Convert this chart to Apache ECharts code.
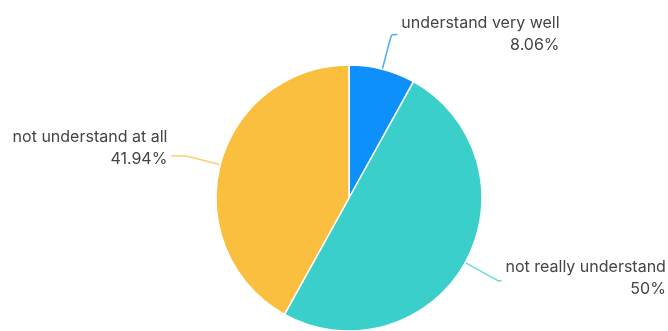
<!DOCTYPE html>
<html>
<head>
<meta charset="utf-8">
<script src="https://cdn.jsdelivr.net/npm/echarts@6/dist/echarts.min.js"></script>
<style>
  html, body { margin: 0; padding: 0; background: #ffffff; }
  #chart { width: 668px; height: 331px; }
</style>
</head>
<body>
<div id="chart"></div>
<script>
// Survey answers (respondent counts) and slice colours
const categories = ['understand very well', 'not really understand', 'not understand at all'];
const counts = [5, 31, 26];
const colors = ['#0e90fa', '#3acfca', '#fbbf3f'];

// Per-slice tweaks for the outside labels and their leader lines
const labelTweaks = [
  { length: 36, length2: 6, padding: [0, 0, 0, 0] },
  { length: 38, length2: 3, padding: [0, 0, 6, 0] },
  { length: 36, length2: 14, padding: [0, 0, 14, 0] }
];

const chart = echarts.init(document.getElementById('chart'), null, { renderer: 'canvas' });

chart.setOption({
  animation: false,
  series: [{
    type: 'pie',
    center: [349, 198],
    radius: 133,
    startAngle: 90,
    clockwise: true,
    avoidLabelOverlap: false,
    percentPrecision: 2,
    data: categories.map((name, i) => ({
      name: name,
      value: counts[i],
      itemStyle: { color: colors[i] },
      label: { padding: labelTweaks[i].padding },
      labelLine: { length: labelTweaks[i].length, length2: labelTweaks[i].length2 }
    })),
    itemStyle: { borderColor: '#ffffff', borderWidth: 1.5 },
    label: {
      show: true,
      position: 'outside',
      formatter: p => '{n|' + p.name + '}\n{p|' + p.percent + '%}',
      rich: {
        n: { fontFamily: 'Inter', fontSize: 16, color: '#444', align: 'right', lineHeight: 22 },
        p: { fontFamily: 'Inter', fontSize: 16, color: '#444', align: 'right', lineHeight: 22 }
      },
      distanceToLabelLine: 4
    },
    labelLine: {
      show: true,
      smooth: 0.2,
      lineStyle: { width: 1.5, opacity: 0.75 }
    }
  }]
});
</script>
</body>
</html>
